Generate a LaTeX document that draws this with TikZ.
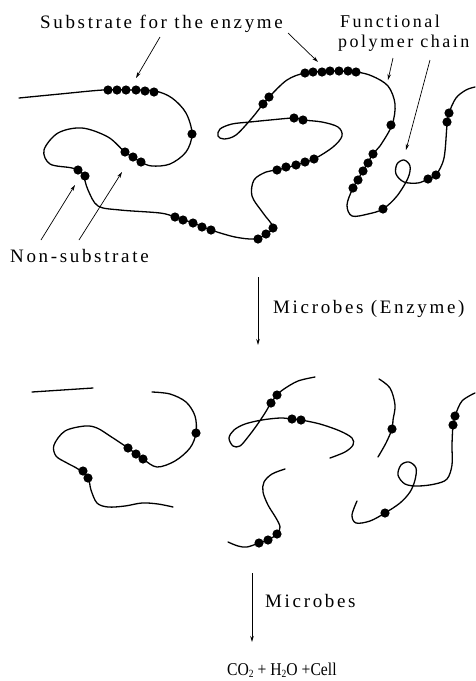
\documentclass[tikz,border=0pt]{standalone}
\usepackage{fontspec}
\setmainfont{Liberation Serif}
\newfontfamily\labelfont{Liberation Serif}[LetterSpace=14]
\usetikzlibrary{arrows.meta}
\newcommand\beadset[1]{\foreach \b in {#1}{\fill \b circle (4.6);}}
\newcommand\subtwo{\raisebox{-0.35ex}{\fontsize{11}{11}\selectfont 2}}
\begin{document}
\begin{tikzpicture}[x=1pt,y=-1pt,
  chain/.style={line width=1.3pt, line cap=round, line join=round},
  pointer/.style={line width=0.7pt, -{Stealth[length=6pt,width=3.5pt]}},
  flow/.style={line width=0.9pt, -{Stealth[length=6pt,width=3.5pt]}},
  lbl/.style={inner sep=0pt, anchor=base west, font=\labelfont\fontsize{19}{21}\selectfont},
  lblsmall/.style={lbl, font=\labelfont\fontsize{18}{20}\selectfont},
  formula/.style={inner sep=0pt, anchor=base west, font=\fontsize{18}{20}\selectfont},
]
\useasboundingbox (0,0) rectangle (475,681);

% ---------- intact functional polymer chain ----------
\draw[chain] plot[smooth, tension=0.55] coordinates {
  (19,98) (60,94) (103,90) (130,90) (155,91) (172,98) (186,113) (192,134)
  (186,152) (170,164) (152,166) (141,162) (125,152) (108,137) (82,128)
  (58,133) (44,150) (50,164) (72,168) (82,173) (88,190) (98,206) (120,210)
  (160,213) (175,217) (193,223) (211,230) (235,237) (255,239) (266,234)
  (273,227) (263,213) (252,196) (254,180) (266,172) (277,170) (296,165)
  (314,159) (333,147) (342,136) (338,127) (322,122) (303,120) (294,118)
  (270,120) (250,122) (232,124) (220,129) (218,136) (224,139) (236,135)
  (252,118) (263,104) (270,96) (287,80) (305,73) (330,71) (356,72) (372,76)
  (388,86) (395,104) (392,125) (380,146) (373,154) (363,171) (353,188)
  (347,205) (352,216) (368,214) (383,209) (397,196) (408,178) (410,166)
  (404,160) (397,164) (396,174) (404,182) (418,183) (428,179) (436,175)
  (444,158) (447,125) (449,113) (456,98) (466,90) (475,87)};
\beadset{(108,90),(117,90),(126,90),(136,90),(145,91),(154,92)}
\beadset{(192,134)}
\beadset{(125,152),(133,157),(141,162)}
\beadset{(78,170),(85,176)}
\beadset{(175,217),(183,220),(193,223),(202,227),(211,230)}
\beadset{(258,239),(266,234),(273,228)}
\beadset{(277,170),(286,167),(296,165),(305,162),(314,159)}
\beadset{(294,118),(303,120)}
\beadset{(263,104),(269,97)}
\beadset{(305,73),(313,72),(322,72),(330,71),(339,71),(348,71),(356,72)}
\beadset{(391,125)}
\beadset{(373,154),(368,163),(363,171),(358,180),(353,188)}
\beadset{(383,209)}
\beadset{(428,179),(436,175)}
\beadset{(447,122),(449,113)}

% ---------- labels ----------
\node[lbl] (subst) at (40,28) {Substrate for the enzyme};
\node[lblsmall] (func1) at (340,27) {Functional};
\node[lblsmall] (func2) at (338,47) {polymer chain};
\node[lbl] (nonsub) at (10,262) {Non-substrate};
\node[lbl] (mic1) at (273,313) {Microbes (Enzyme)};
\node[lbl] (mic2) at (265,607) {Microbes};
\node[formula] (prod) at (227,675) {\scalebox{0.87}[1]{CO\subtwo{} + H\subtwo O +Cell}};

% ---------- pointers ----------
\coordinate (sA0) at (160,37);  \coordinate (sA1) at (136,78);
\coordinate (sB0) at (288,33);  \coordinate (sB1) at (318,62);
\coordinate (fA0) at (393,58);  \coordinate (fA1) at (388,80);
\coordinate (fB0) at (430,60);  \coordinate (fB1) at (406,150);
\coordinate (nA0) at (41,240);  \coordinate (nA1) at (75,185);
\coordinate (nB0) at (79,240);  \coordinate (nB1) at (122,172);
\draw[pointer] (sA0) -- (sA1);
\draw[pointer] (sB0) -- (sB1);
\draw[pointer] (fA0) -- (fA1);
\draw[pointer] (fB0) -- (fB1);
\draw[pointer] (nA0) -- (nA1);
\draw[pointer] (nB0) -- (nB1);

% ---------- reaction arrows ----------
\coordinate (r1a) at (258,277); \coordinate (r1b) at (258,345);
\coordinate (r2a) at (252,573); \coordinate (r2b) at (252,642);
\draw[flow] (r1a) -- (r1b);
\draw[flow] (r2a) -- (r2b);

% ---------- degraded fragments ----------
\draw[chain] (32,392) -- (93,388);
\draw[chain] plot[smooth, tension=0.55] coordinates {
  (152,392) (170,394) (186,402) (195,416) (196,433) (190,448) (175,461)
  (157,467) (143,459) (128,448) (110,436) (97,428) (85,426) (65,431)
  (54,445) (56,456) (67,463) (78,469) (88,478) (91,490) (97,503) (108,507)
  (125,506) (142,503) (158,504) (173,507)};
\beadset{(196,433),(143,459),(136,454),(128,448),(83,471),(88,478)}

\draw[chain] plot[smooth, tension=0.55] coordinates {
  (315,377) (298,381) (284,389) (277,395) (271,403) (265,413) (257,425)
  (248,437) (240,446) (233,446) (229,438) (234,430) (245,424) (262,420)
  (280,418) (292,419) (301,420) (320,424) (340,431) (352,438) (353,445)
  (345,452) (330,458)};
\beadset{(277,395),(271,403),(292,419),(301,420)}

\draw[chain] plot[smooth, tension=0.55] coordinates {
  (285,469) (272,474) (264,482) (263,492) (268,505) (276,518) (280,527)
  (277,534) (268,540) (259,543) (247,547) (238,546) (228,542)};
\beadset{(277,534),(268,540),(259,543)}

\draw[chain] plot[smooth, tension=0.55] coordinates {
  (379,379) (390,388) (395,405) (393,420) (392,429) (386,443) (378,457)};
\beadset{(392,429)}

\draw[chain] plot[smooth, tension=0.55] coordinates {
  (475,393) (462,401) (455,416) (453,425) (452,445) (452,465) (447,479)
  (435,484) (418,486) (405,484) (398,475) (401,465) (409,462) (416,468)
  (415,480) (410,492) (400,503) (385,513) (370,521) (356,523) (352,515)
  (357,501)};
\beadset{(455,416),(453,425),(385,513)}
\end{tikzpicture}
\end{document}
